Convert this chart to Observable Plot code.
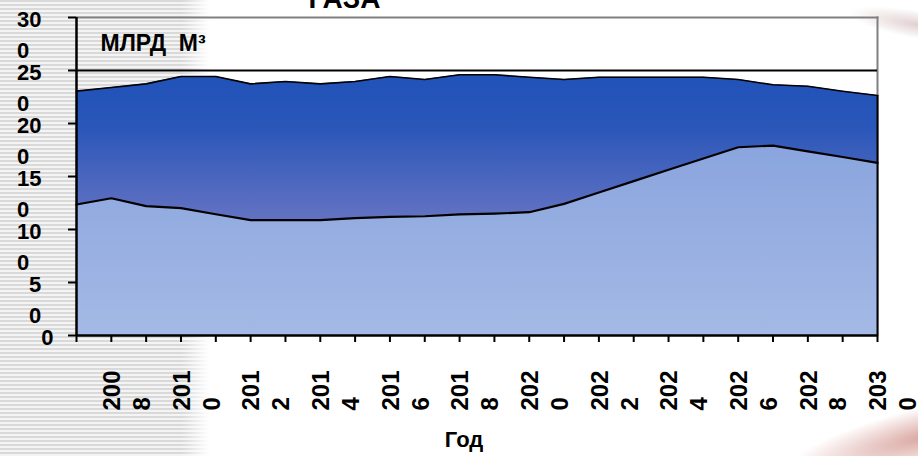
<!DOCTYPE html>
<html>
<head>
<meta charset="utf-8">
<script src="https://cdn.jsdelivr.net/npm/d3@7"></script>
<script src="https://cdn.jsdelivr.net/npm/@observablehq/plot@0.6"></script>
<style>
  html, body { margin: 0; padding: 0; background: #ffffff; }
  #wrap { position: relative; width: 918px; height: 456px; overflow: hidden; background: #fff; }
  #stripes {
    position: absolute; left: 0; top: 0; width: 214px; height: 456px;
    background: repeating-linear-gradient(to bottom, #d9d9d9 0px, #d9d9d9 2px, #f4f4f4 2px, #f4f4f4 4px);
    -webkit-mask-image: linear-gradient(to right, #000 0px, #000 182px, transparent 210px);
    mask-image: linear-gradient(to right, #000 0px, #000 182px, transparent 210px);
  }
  #decoTop {
    position: absolute; left: 840px; top: -30px; width: 160px; height: 90px;
    background: radial-gradient(ellipse 70px 14px at 80px 55px, rgba(200,170,170,0.55), rgba(255,255,255,0) 100%);
    transform: rotate(10deg);
  }
  #decoBottom {
    position: absolute; left: 760px; top: 380px; width: 220px; height: 110px;
    background: radial-gradient(ellipse 150px 30px at 170px 70px, rgba(185,90,80,0.55), rgba(255,255,255,0) 100%);
    transform: rotate(-14deg);
  }
  #chart { position: absolute; left: 0; top: 0; }
</style>
</head>
<body>
<div id="wrap">
  <div id="stripes"></div>
  <div id="decoTop"></div>
  <div id="decoBottom"></div>
  <div id="chart"></div>
</div>
<script>
// ---- data ----
const years = [2007, 2008, 2009, 2010, 2011, 2012, 2013, 2014, 2015, 2016, 2017, 2018,
               2019, 2020, 2021, 2022, 2023, 2024, 2025, 2026, 2027, 2028, 2029, 2030];
const upperSeries = [230.5, 234, 237.4, 244.3, 244.3, 237.4, 239.6, 237.4, 239.6, 244.3, 241.5, 246,
                     246, 243.7, 241.5, 243.7, 243.7, 243.7, 243.7, 241.5, 236.5, 235.2, 230.5, 226.4];
const lowerSeries = [123.6, 129.5, 122, 120.1, 114.4, 108.8, 108.8, 108.8, 110.7, 112, 112.5, 114.2,
                     115, 116.3, 124.2, 134.9, 145.6, 156.3, 167, 177.6, 179.2, 173.7, 168.4, 162.9];
const xTickLabels = ["2008", "2010", "2012", "2014", "2016", "2018", "2020", "2022", "2024", "2026", "2028", "2030"];
const yTickValues = [0, 50, 100, 150, 200, 250, 300];
const yTickLabels = ["0", "50", "100", "150", "200", "250", "300"];
const titleText = "ГАЗА";
const unitText = "МЛРД  М³";
const xAxisTitle = "Год";

// ---- layout ----
const W = 918, H = 456;
const mL = 76, mR = 41, mT = 17, mB = 121;
const FONT = "'Liberation Sans', Arial, Helvetica, sans-serif";

const data = years.map((year, i) => ({year, upper: upperSeries[i], lower: lowerSeries[i]}));
const wrapLast = s => s.length > 1 ? s.slice(0, -1) + "\n" + s.slice(-1) : s;

const yLabelData = yTickValues.map((v, i) => ({v, label: yTickLabels[i]}));
const xLabelData = xTickLabels.map(l => ({year: +l, label: l}));

// gradient defs as a render-function mark
function gradients() {
  const defs = d3.create("svg:defs");
  const g1 = defs.append("linearGradient").attr("id", "gUpper")
    .attr("x1", 0).attr("y1", 0).attr("x2", 0).attr("y2", 1);
  g1.append("stop").attr("offset", "0%").attr("stop-color", "#2052b8");
  g1.append("stop").attr("offset", "20%").attr("stop-color", "#2a56b9");
  g1.append("stop").attr("offset", "55%").attr("stop-color", "#6272c2");
  g1.append("stop").attr("offset", "100%").attr("stop-color", "#6272c2");
  const g2 = defs.append("linearGradient").attr("id", "gLower")
    .attr("x1", 0).attr("y1", 0).attr("x2", 0).attr("y2", 1);
  g2.append("stop").attr("offset", "0%").attr("stop-color", "#8aa5de");
  g2.append("stop").attr("offset", "100%").attr("stop-color", "#a4b9e5");
  return defs.node();
}

const yFs = 22, yLH = 1.41, yDigit = 12.2, yLabelRight = 53;
const xFs = 24, xLH = 1.25;

const yLabelMarks = [1, 2, 3].map(n => Plot.text(yLabelData.filter(d => d.label.length === n), {
  y: "v",
  text: d => wrapLast(d.label),
  frameAnchor: "left",
  textAnchor: "start",
  lineAnchor: n === 1 ? "middle" : "top",
  lineHeight: yLH,
  dx: -(mL - yLabelRight + n * yDigit),
  dy: n === 1 ? 0 : (0.36 - 0.71 * yLH) * yFs + 1.5,
  fontSize: yFs,
  fontWeight: "bold",
  fill: "black"
}));

const chart = Plot.plot({
  width: W,
  height: H,
  marginLeft: mL,
  marginRight: mR,
  marginTop: mT,
  marginBottom: mB,
  style: {background: "transparent", fontFamily: FONT, overflow: "visible"},
  x: {type: "linear", domain: [years[0], years[years.length - 1]]},
  y: {domain: [0, 300]},
  marks: [
    gradients,
    Plot.frame({anchor: "top", stroke: "#808080", strokeWidth: 2}),
    Plot.frame({anchor: "right", stroke: "#808080", strokeWidth: 2}),
    Plot.areaY(data, {x: "year", y: "upper", fill: "url(#gUpper)"}),
    Plot.areaY(data, {x: "year", y: "lower", fill: "url(#gLower)"}),
    Plot.lineY(data, {x: "year", y: "upper", stroke: "black", strokeWidth: 1.6}),
    Plot.lineY(data, {x: "year", y: "lower", stroke: "black", strokeWidth: 2.2}),
    Plot.ruleX(data.slice(-1), {x: "year", y1: 0, y2: "upper", stroke: "black", strokeWidth: 2}),
    Plot.ruleY([250], {stroke: "black", strokeWidth: 2}),
    Plot.ruleY([0], {stroke: "black", strokeWidth: 2.5}),
    Plot.ruleX([years[0]], {stroke: "black", strokeWidth: 2.5}),
    Plot.axisY({ticks: yTickValues, tickSize: 8, tickFormat: () => "", label: null, stroke: "black", strokeWidth: 2}),
    Plot.axisX({ticks: years, tickSize: 7, tickFormat: () => "", label: null, stroke: "black", strokeWidth: 2}),
    ...yLabelMarks,
    Plot.text(xLabelData, {
      x: "year",
      text: d => wrapLast(d.label),
      frameAnchor: "bottom",
      rotate: -90,
      textAnchor: "start",
      lineAnchor: "top",
      lineHeight: xLH,
      dx: -(0.71 * xLH - 0.36) * xFs,
      dy: 75,
      fontSize: xFs,
      fontWeight: "bold",
      fill: "black"
    }),
    Plot.text([xAxisTitle], {
      text: d => d,
      frameAnchor: "bottom",
      lineAnchor: "bottom",
      dx: -13,
      dy: 111,
      fontSize: 22,
      fontWeight: "bold",
      fill: "black"
    }),
    Plot.text([unitText], {
      text: d => d,
      frameAnchor: "top-left",
      textAnchor: "start",
      lineAnchor: "bottom",
      dx: 24,
      dy: 33,
      fontSize: 23,
      fontWeight: "bold",
      fill: "black"
    }),
    Plot.text([titleText], {
      text: d => d,
      frameAnchor: "top-left",
      textAnchor: "start",
      lineAnchor: "bottom",
      dx: 232,
      dy: -10,
      fontSize: 28,
      fontWeight: "bold",
      fill: "black"
    })
  ]
});
document.getElementById("chart").appendChild(chart);
</script>
</body>
</html>
